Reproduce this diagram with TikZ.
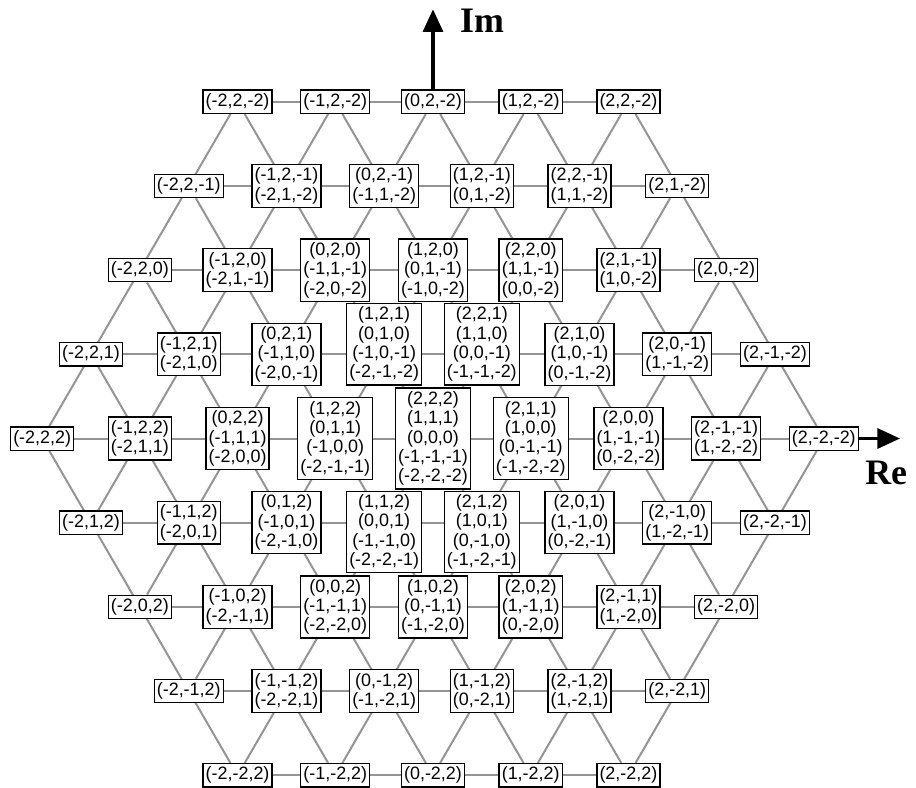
\documentclass[tikz,border=0pt]{standalone}
\usepackage{fontspec}
\setmainfont{Liberation Sans}
\newfontfamily\axisfont{Liberation Serif}
\usetikzlibrary{arrows.meta, backgrounds}

\begin{document}
\begin{tikzpicture}[x=1.2925cm, y=2.2278cm,
  vec/.style={draw=black, line width=1pt, fill=white, align=center,
    inner xsep=2pt, inner ysep=2.5pt,
    font=\fontsize{13.5}{14.6}\selectfont},
  grid/.style={draw=black!42, line width=1.5pt},
  axis/.style={line width=2.5pt, -{Triangle[length=17pt,width=15pt]}},
  axlabel/.style={inner sep=0pt, font=\axisfont\bfseries\fontsize{27}{30}\selectfont}]
\useasboundingbox (-11.456cm,-9.221cm) rectangle (12.779cm,11.602cm);
% row 4
\node[vec] (r4c-4) at (-4,4) {(-2,2,-2)};
\node[vec] (r4c-2) at (-2,4) {(-1,2,-2)};
\node[vec] (r4c0) at (0,4) {(0,2,-2)};
\node[vec] (r4c2) at (2,4) {(1,2,-2)};
\node[vec] (r4c4) at (4,4) {(2,2,-2)};
% row 3
\node[vec] (r3c-5) at (-5,3) {(-2,2,-1)};
\node[vec] (r3c-3) at (-3,3) {(-1,2,-1)\\(-2,1,-2)};
\node[vec] (r3c-1) at (-1,3) {(0,2,-1)\\(-1,1,-2)};
\node[vec] (r3c1) at (1,3) {(1,2,-1)\\(0,1,-2)};
\node[vec] (r3c3) at (3,3) {(2,2,-1)\\(1,1,-2)};
\node[vec] (r3c5) at (5,3) {(2,1,-2)};
% row 2
\node[vec] (r2c-6) at (-6,2) {(-2,2,0)};
\node[vec] (r2c-4) at (-4,2) {(-1,2,0)\\(-2,1,-1)};
\node[vec] (r2c-2) at (-2,2) {(0,2,0)\\(-1,1,-1)\\(-2,0,-2)};
\node[vec] (r2c0) at (0,2) {(1,2,0)\\(0,1,-1)\\(-1,0,-2)};
\node[vec] (r2c2) at (2,2) {(2,2,0)\\(1,1,-1)\\(0,0,-2)};
\node[vec] (r2c4) at (4,2) {(2,1,-1)\\(1,0,-2)};
\node[vec] (r2c6) at (6,2) {(2,0,-2)};
% row 1 (the two 4-line boxes are lifted a little to clear the centre box)
\node[vec] (r1c-7) at (-7,1) {(-2,2,1)};
\node[vec] (r1c-5) at (-5,1) {(-1,2,1)\\(-2,1,0)};
\node[vec] (r1c-3) at (-3,1) {(0,2,1)\\(-1,1,0)\\(-2,0,-1)};
\node[vec] (r1c-1) at (-1,1.12) {(1,2,1)\\(0,1,0)\\(-1,0,-1)\\(-2,-1,-2)};
\node[vec] (r1c1) at (1,1.12) {(2,2,1)\\(1,1,0)\\(0,0,-1)\\(-1,-1,-2)};
\node[vec] (r1c3) at (3,1) {(2,1,0)\\(1,0,-1)\\(0,-1,-2)};
\node[vec] (r1c5) at (5,1) {(2,0,-1)\\(1,-1,-2)};
\node[vec] (r1c7) at (7,1) {(2,-1,-2)};
% row 0
\node[vec] (r0c-8) at (-8,0) {(-2,2,2)};
\node[vec] (r0c-6) at (-6,0) {(-1,2,2)\\(-2,1,1)};
\node[vec] (r0c-4) at (-4,0) {(0,2,2)\\(-1,1,1)\\(-2,0,0)};
\node[vec] (r0c-2) at (-2,0) {(1,2,2)\\(0,1,1)\\(-1,0,0)\\(-2,-1,-1)};
\node[vec] (r0c0) at (0,0) {(2,2,2)\\(1,1,1)\\(0,0,0)\\(-1,-1,-1)\\(-2,-2,-2)};
\node[vec] (r0c2) at (2,0) {(2,1,1)\\(1,0,0)\\(0,-1,-1)\\(-1,-2,-2)};
\node[vec] (r0c4) at (4,0) {(2,0,0)\\(1,-1,-1)\\(0,-2,-2)};
\node[vec] (r0c6) at (6,0) {(2,-1,-1)\\(1,-2,-2)};
\node[vec] (r0c8) at (8,0) {(2,-2,-2)};
% row -1
\node[vec] (r-1c-7) at (-7,-1) {(-2,1,2)};
\node[vec] (r-1c-5) at (-5,-1) {(-1,1,2)\\(-2,0,1)};
\node[vec] (r-1c-3) at (-3,-1) {(0,1,2)\\(-1,0,1)\\(-2,-1,0)};
\node[vec] (r-1c-1) at (-1,-1.11) {(1,1,2)\\(0,0,1)\\(-1,-1,0)\\(-2,-2,-1)};
\node[vec] (r-1c1) at (1,-1.11) {(2,1,2)\\(1,0,1)\\(0,-1,0)\\(-1,-2,-1)};
\node[vec] (r-1c3) at (3,-1) {(2,0,1)\\(1,-1,0)\\(0,-2,-1)};
\node[vec] (r-1c5) at (5,-1) {(2,-1,0)\\(1,-2,-1)};
\node[vec] (r-1c7) at (7,-1) {(2,-2,-1)};
% row -2
\node[vec] (r-2c-6) at (-6,-2) {(-2,0,2)};
\node[vec] (r-2c-4) at (-4,-2) {(-1,0,2)\\(-2,-1,1)};
\node[vec] (r-2c-2) at (-2,-2) {(0,0,2)\\(-1,-1,1)\\(-2,-2,0)};
\node[vec] (r-2c0) at (0,-2) {(1,0,2)\\(0,-1,1)\\(-1,-2,0)};
\node[vec] (r-2c2) at (2,-2) {(2,0,2)\\(1,-1,1)\\(0,-2,0)};
\node[vec] (r-2c4) at (4,-2) {(2,-1,1)\\(1,-2,0)};
\node[vec] (r-2c6) at (6,-2) {(2,-2,0)};
% row -3
\node[vec] (r-3c-5) at (-5,-3) {(-2,-1,2)};
\node[vec] (r-3c-3) at (-3,-3) {(-1,-1,2)\\(-2,-2,1)};
\node[vec] (r-3c-1) at (-1,-3) {(0,-1,2)\\(-1,-2,1)};
\node[vec] (r-3c1) at (1,-3) {(1,-1,2)\\(0,-2,1)};
\node[vec] (r-3c3) at (3,-3) {(2,-1,2)\\(1,-2,1)};
\node[vec] (r-3c5) at (5,-3) {(2,-2,1)};
% row -4
\node[vec] (r-4c-4) at (-4,-4) {(-2,-2,2)};
\node[vec] (r-4c-2) at (-2,-4) {(-1,-2,2)};
\node[vec] (r-4c0) at (0,-4) {(0,-2,2)};
\node[vec] (r-4c2) at (2,-4) {(1,-2,2)};
\node[vec] (r-4c4) at (4,-4) {(2,-2,2)};
% lattice lines behind the boxes
\begin{scope}[on background layer]
\foreach \row in {-4,...,4}{
  \pgfmathtruncatemacro\hh{8-abs(\row)}
  \draw[grid] (r\row c-\hh) -- (r\row c\hh);
}
\foreach \u in {-4,...,4}{
  \pgfmathtruncatemacro\va{max(-4,-4-(\u))}
  \pgfmathtruncatemacro\vb{min(4,4-(\u))}
  \pgfmathtruncatemacro\ha{2*(\u)+\va}
  \pgfmathtruncatemacro\hb{2*(\u)+\vb}
  \draw[grid] (r\va c\ha) -- (r\vb c\hb);
}
\foreach \s in {-4,...,4}{
  \pgfmathtruncatemacro\va{max(-4,(\s)-4)}
  \pgfmathtruncatemacro\vb{min(4,(\s)+4)}
  \pgfmathtruncatemacro\ha{2*(\s)-\va}
  \pgfmathtruncatemacro\hb{2*(\s)-\vb}
  \draw[grid] (r\va c\ha) -- (r\vb c\hb);
}
\end{scope}
% axes
\coordinate (imtip) at (0,5.097);
\coordinate (retip) at (9.56,0);
\draw[axis] (r4c0) -- (imtip);
\draw[axis] (r0c8) -- (retip);
\node[axlabel, anchor=base west] (imlabel) at (0.552,4.816) {Im};
\node[axlabel, anchor=base west] (relabel) at (8.843,-0.552) {Re};
\end{tikzpicture}
\end{document}
